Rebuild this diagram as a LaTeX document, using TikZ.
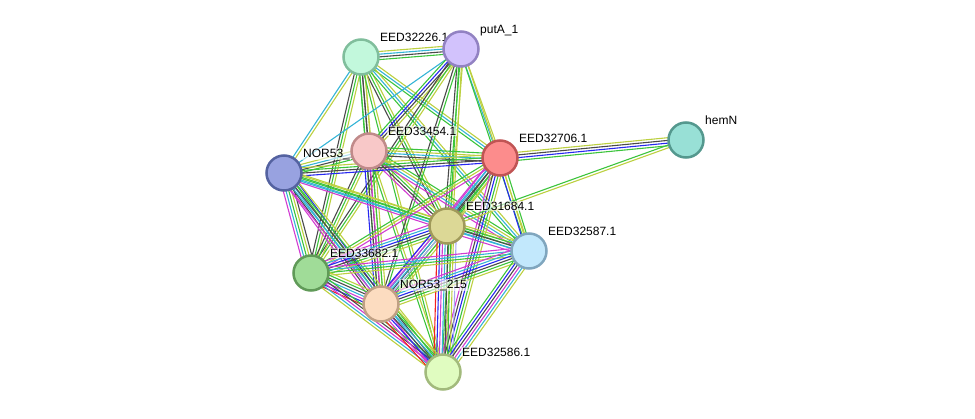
\documentclass[tikz,border=0pt]{standalone}
\usepackage{fontspec}
\setmainfont{Liberation Sans}
\usepackage{xcolor}
\usetikzlibrary{calc, backgrounds}

% evidence colours
\definecolor{evg}{HTML}{3CC43C}
\definecolor{evr}{HTML}{F42020}
\definecolor{evb}{HTML}{2828F0}
\definecolor{evk}{HTML}{4A4A4A}
\definecolor{evm}{HTML}{D23CD2}
\definecolor{evc}{HTML}{34B4D6}
\definecolor{evy}{HTML}{BCD040}
\definecolor{evl}{HTML}{A8A8F2}

% protein colours
\definecolor{fA}{HTML}{C2F8DC}\definecolor{dA}{HTML}{80BE9C}
\definecolor{fP}{HTML}{D2C2FC}\definecolor{dP}{HTML}{9282C2}
\definecolor{fB}{HTML}{F8C8C8}\definecolor{dB}{HTML}{C08A8A}
\definecolor{fN}{HTML}{98A2E0}\definecolor{dN}{HTML}{5462A0}
\definecolor{fR}{HTML}{FC8C8C}\definecolor{dR}{HTML}{C05454}
\definecolor{fH}{HTML}{98E0D6}\definecolor{dH}{HTML}{54988E}
\definecolor{fC}{HTML}{DCD896}\definecolor{dC}{HTML}{A09A5A}
\definecolor{fS}{HTML}{C2E8FC}\definecolor{dS}{HTML}{80A6BE}
\definecolor{fG}{HTML}{A0DC98}\definecolor{dG}{HTML}{609A58}
\definecolor{fF}{HTML}{FCDCC0}\definecolor{dF}{HTML}{C0A084}
\definecolor{fE}{HTML}{E0FCC0}\definecolor{dE}{HTML}{A2BA7C}

\tikzstyle{protein} = [circle, minimum size=35pt, inner sep=0pt, line width=2.5pt]
\tikzstyle{plabel} = [anchor=base west, font=\fontsize{12}{14}\selectfont, fill=white, fill opacity=0.6, text opacity=1, inner sep=1pt]
\tikzstyle{evid} = [line width=1.1pt]

% parallel evidence lines between two proteins
\newcommand{\evidence}[3]{%
  \foreach \c [count=\n] in {#3} {\global\let\nev\n}%
  \foreach \c [count=\i] in {#3} {%
    \pgfmathsetmacro\off{(\i-(\nev+1)/2)*2.7}%
    \draw[evid, draw=\c] ($(#1)!\off pt!90:(#2)$) -- ($(#2)!\off pt!-90:(#1)$);
  }%
}

\begin{document}
\begin{tikzpicture}[x=1pt, y=-1pt]
      \useasboundingbox (0,0) rectangle (975,418);

      % Proteins
      \node[protein, draw=dA, fill=fA] (e32226) at (361,57) {};
      \node[protein, draw=dP, fill=fP] (putA) at (461,49) {};
      \node[protein, draw=dB, fill=fB] (e33454) at (369,151) {};
      \node[protein, draw=dN, fill=fN] (nor53) at (284,173) {};
      \node[protein, draw=dR, fill=fR] (e32706) at (500,158) {};
      \node[protein, draw=dH, fill=fH] (hemN) at (686,140) {};
      \node[protein, draw=dC, fill=fC] (e31684) at (447,226) {};
      \node[protein, draw=dS, fill=fS] (e32587) at (529,251) {};
      \node[protein, draw=dG, fill=fG] (e33682) at (311,273) {};
      \node[protein, draw=dF, fill=fF] (nor215) at (381,304) {};
      \node[protein, draw=dE, fill=fE] (e32586) at (443,372) {};

      \begin{scope}[on background layer]
      % Evidence lines
      \evidence{e32226}{putA}{evg,evk,evc,evy}
      \evidence{e32226}{nor53}{evc,evy}
      \evidence{e32226}{e33454}{evg,evk,evy}
      \evidence{e32226}{e32706}{evg,evc,evy}
      \evidence{e32226}{e31684}{evk,evg,evy}
      \evidence{e32226}{e33682}{evk,evg,evy}
      \evidence{e32226}{nor215}{evg,evk,evy}
      \evidence{e32226}{e32586}{evg,evy}
      \evidence{e32226}{e32587}{evg,evc,evy}
      \evidence{putA}{nor53}{evc}
      \evidence{putA}{e33454}{evg,evb,evk,evy}
      \evidence{putA}{e32706}{evc,evy}
      \evidence{putA}{e31684}{evk,evg,evy}
      \evidence{putA}{e33682}{evk,evg,evy}
      \evidence{putA}{nor215}{evk,evg}
      \evidence{putA}{e32586}{evg,evy}
      \evidence{putA}{e32587}{evg,evy}
      \evidence{e33454}{nor53}{evy,evc,evk,evg}
      \evidence{e33454}{e32706}{evk,evc,evy,evg}
      \evidence{e33454}{e31684}{evm,evk,evg,evy}
      \evidence{e33454}{e33682}{evk,evg,evy}
      \evidence{e33454}{nor215}{evb,evk,evm,evg,evy}
      \evidence{e33454}{e32586}{evg,evy}
      \evidence{e33454}{e32587}{evm,evc,evy,evg}
      \evidence{nor53}{e32706}{evb,evk,evg,evy}
      \evidence{nor53}{e31684}{evm,evc,evg,evy}
      \evidence{nor53}{e33682}{evm,evc,evg,evy,evk}
      \evidence{nor53}{nor215}{evm,evk,evc,evg,evb}
      \evidence{nor53}{e32586}{evm,evc,evk,evg,evy}
      \evidence{nor53}{e32587}{evc,evg,evy}
      \evidence{e32706}{hemN}{evg,evb,evk,evy}
      \evidence{e32706}{e31684}{evm,evc,evk,evg,evy}
      \evidence{e32706}{e32587}{evb,evy,evg}
      \evidence{e32706}{e33682}{evg,evy,evm}
      \evidence{e32706}{nor215}{evm,evc,evk,evg,evy}
      \evidence{e32706}{e32586}{evm,evk,evb,evg,evy}
      \evidence{hemN}{e31684}{evg,evy}
      \evidence{e31684}{e32587}{evm,evc,evk,evg,evy}
      \evidence{e31684}{e33682}{evm,evc,evb,evk,evg,evy}
      \evidence{e31684}{nor215}{evb,evm,evc,evl,evg,evy}
      \evidence{e31684}{e32586}{evr,evb,evm,evc,evk,evg,evy,evl}
      \evidence{e32587}{e33682}{evm,evc,evg,evy}
      \evidence{e32587}{nor215}{evm,evc,evb,evk,evg,evy}
      \evidence{e32587}{e32586}{evg,evb,evk,evm,evc,evy}
      \evidence{e33682}{nor215}{evr,evb,evm,evc,evk,evg,evy}
      \evidence{e33682}{e32586}{evy,evc,evm,evk,evg}
      \evidence{nor215}{e32586}{evr,evm,evb,evk,evc,evg,evy}

      % Labels
      \node[plabel] (e32226-l) at (379,41) {EED32226.1};
      \node[plabel] (putA-l) at (479,33) {putA\_1};
      \node[plabel] (e33454-l) at (387,135) {EED33454.1};
      \node[plabel] (nor53-l) at (302,157) {NOR53\_};
      \node[plabel] (e32706-l) at (518,142) {EED32706.1};
      \node[plabel] (hemN-l) at (704,124) {hemN};
      \node[plabel] (e31684-l) at (465,210) {EED31684.1};
      \node[plabel] (e32587-l) at (547,235) {EED32587.1};
      \node[plabel] (e33682-l) at (329,257) {EED33682.1};
      \node[plabel] (nor215-l) at (399,288) {NOR53\_215};
      \node[plabel] (e32586-l) at (461,356) {EED32586.1};
      \end{scope}
    \end{tikzpicture}
\end{document}
